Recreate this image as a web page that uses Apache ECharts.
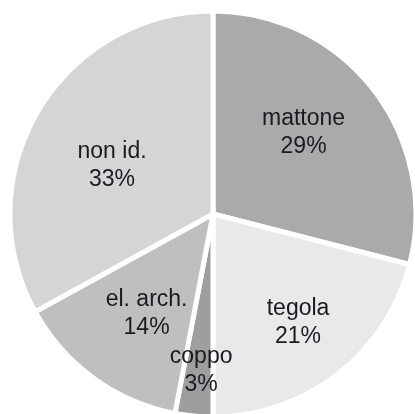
<!DOCTYPE html>
<html>
<head>
<meta charset="utf-8">
<script src="https://cdn.jsdelivr.net/npm/echarts@6/dist/echarts.min.js"></script>
<style>
  html, body { margin: 0; padding: 0; background: #fff; }
  #chart { width: 415px; height: 414px; }
</style>
</head>
<body>
<div id="chart"></div>
<script>
// share of fragments by type (%)
const categories = ['mattone', 'tegola', 'coppo', 'el. arch.', 'non id.']
const shares = [29, 21, 3, 14, 33]

const sliceColors = ['#aaaaaa', '#e9e9e9', '#9e9e9e', '#bfbfbf', '#d5d5d5']
// nudges for the inside labels, px
const labelNudge = [[8, -17], [21, 26], [-2, 53], [-5, 15], [-11, 5]]

const chart = echarts.init(document.getElementById('chart'))
chart.setOption({
  animation: false,
  series: [
    {
      type: 'pie',
      center: [213, 214],
      radius: [0, 203],
      startAngle: 90,
      avoidLabelOverlap: false,
      itemStyle: { borderColor: '#ffffff', borderWidth: 5 },
      label: {
        show: true,
        position: 'inside',
        formatter: '{b}\n{c}%',
        color: '#1a1a22',
        fontFamily: 'Liberation Sans, Arial, sans-serif',
        fontSize: 23,
        lineHeight: 28
      },
      labelLine: { show: false },
      emphasis: { scale: false },
      data: categories.map((name, i) => ({
        name,
        value: shares[i],
        itemStyle: { color: sliceColors[i] },
        label: { offset: labelNudge[i] }
      }))
    }
  ]
})
</script>
</body>
</html>
